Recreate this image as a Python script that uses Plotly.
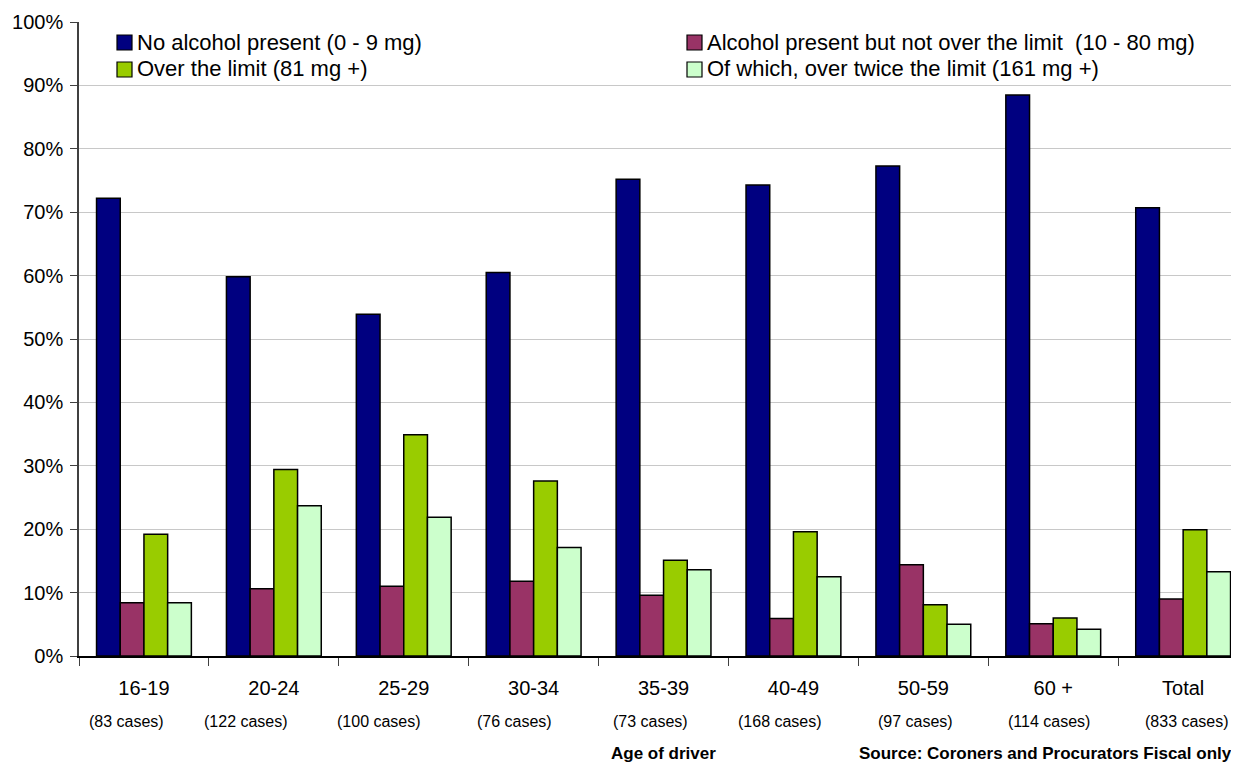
import plotly.graph_objects as go

# ---------------- data ----------------
categories = ["16-19", "20-24", "25-29", "30-34", "35-39", "40-49", "50-59", "60 +", "Total"]
cases = ["(83 cases)", "(122 cases)", "(100 cases)", "(76 cases)", "(73 cases)",
         "(168 cases)", "(97 cases)", "(114 cases)", "(833 cases)"]
no_alcohol = [72.2, 59.8, 53.9, 60.5, 75.2, 74.3, 77.3, 88.5, 70.7]
under_limit = [8.4, 10.6, 11.0, 11.8, 9.6, 5.9, 14.4, 5.1, 9.0]
over_limit = [19.2, 29.4, 34.9, 27.6, 15.1, 19.6, 8.1, 6.0, 19.9]
over_twice = [8.4, 23.7, 21.9, 17.1, 13.6, 12.5, 5.0, 4.2, 13.3]
series_names = [
    "No alcohol present (0 - 9 mg)",
    "Alcohol present but not over the limit  (10 - 80 mg)",
    "Over the limit (81 mg +)",
    "Of which, over twice the limit (161 mg +)",
]
y_ticks = [0, 10, 20, 30, 40, 50, 60, 70, 80, 90, 100]

# ---------------- style / layout ----------------
colors = ["#000080", "#993366", "#99CC00", "#CCFFCC"]
FONT = "Arial, Liberation Sans, sans-serif"
OFF = 8                      # page body margin of the html page
W, H = 1239 - OFF, 765 - OFF
ML, MR, MT, MB = 79 - OFF, 0, 22 - OFF, 109
PW, PH = W - ML - MR, H - MT - MB
case_shift = [-17, -28, -25, -19, -13, -13, -8, -4, 4]


def px_x(x):
    """page pixel x -> paper fraction"""
    return (x - OFF - ML) / PW


def px_y(y):
    """page pixel y -> paper fraction"""
    return (H - MB - (y - OFF)) / PH


series = [no_alcohol, under_limit, over_limit, over_twice]

fig = go.Figure()
for name, vals, col in zip(series_names, series, colors):
    fig.add_trace(go.Bar(
        x=categories, y=vals, name=name,
        marker=dict(color=col, line=dict(color="#000000", width=1.5)),
        showlegend=False,
    ))

# manual legend (two columns)
legend_pos = [(117, 42), (687, 42), (117, 69), (687, 69)]
shapes = []
annotations = []
for (lx, ly), name, col in zip(legend_pos, series_names, colors):
    shapes.append(dict(type="rect", xref="paper", yref="paper",
                       x0=px_x(lx), x1=px_x(lx + 15), y0=px_y(ly + 8), y1=px_y(ly - 7),
                       fillcolor=col, line=dict(color="#000000", width=1.2)))
    annotations.append(dict(text=name.replace("  ", "\u00a0 "), xref="paper", yref="paper",
                            x=px_x(lx + 18), y=px_y(ly), xanchor="left", yanchor="middle",
                            showarrow=False, font=dict(family=FONT, size=22, color="#000000")))

# case-count labels under the category labels
for i, (c, s) in enumerate(zip(cases, case_shift)):
    annotations.append(dict(text=c, xref="x", yref="paper", x=categories[i], xshift=s,
                            y=px_y(721), xanchor="center", yanchor="middle", showarrow=False,
                            font=dict(family=FONT, size=16, color="#000000")))

annotations.append(dict(text="<b>Age of driver</b>", xref="paper", yref="paper",
                        x=px_x(609), y=px_y(765), xanchor="left", yanchor="bottom",
                        showarrow=False, font=dict(family=FONT, size=17, color="#000000")))
annotations.append(dict(text="<b>Source: Coroners and Procurators Fiscal only</b>", xref="paper",
                        yref="paper", x=px_x(857), y=px_y(765), xanchor="left", yanchor="bottom",
                        showarrow=False, font=dict(family=FONT, size=17, color="#000000")))

fig.update_layout(
    width=W, height=H, autosize=False,
    margin=dict(l=ML, r=MR, t=MT, b=MB, pad=0),
    paper_bgcolor="#FFFFFF", plot_bgcolor="#FFFFFF",
    barmode="group", bargap=0.27, bargroupgap=0,
    font=dict(family=FONT, color="#000000"),
    shapes=shapes, annotations=annotations,
)
fig.update_xaxes(
    type="category", range=[-0.5, 8.43],
    showline=True, linecolor="#000000", linewidth=2,
    ticks="outside", tickson="boundaries", ticklen=8, tickcolor="#404040", tickwidth=1,
    tickfont=dict(family=FONT, size=20, color="#000000"),
    ticklabelstandoff=13,
    showgrid=False, zeroline=False, fixedrange=True,
)
fig.update_yaxes(
    range=[0, 100], tickmode="array", tickvals=y_ticks,
    ticktext=[f"{v}%" for v in y_ticks],
    showline=True, linecolor="#404040", linewidth=1.5,
    ticks="outside", ticklen=7, tickcolor="#404040", tickwidth=1,
    tickfont=dict(family=FONT, size=20, color="#000000"),
    ticklabelstandoff=3,
    showgrid=True, gridcolor="#C8C8C8", gridwidth=1,
    zeroline=False, fixedrange=True,
)

fig.write_html("out.html")
